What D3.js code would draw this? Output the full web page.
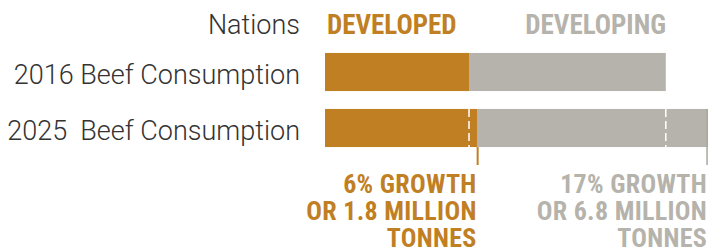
<!DOCTYPE html>
<html>
<head>
<meta charset="utf-8">
<script src="https://cdn.jsdelivr.net/npm/d3@7"></script>
<style>
  body { margin: 0; background: #fff; }
  svg { display: block; }
  .row-label { font-family: Roboto, sans-serif; font-weight: 300; fill: #333; }
  .head { font-family: Roboto, sans-serif; font-weight: 700; font-stretch: condensed; }
</style>
</head>
<body>
<script>
const w = 713;
const h = 249;
const orange = "#c17f24";
const grey = "#b5b3ab";

const years = ["2016 Beef Consumption", "2025  Beef Consumption"];
const groups = ["DEVELOPED", "DEVELOPING"];
const developed = [30, 31.8];
const developing = [41, 48];
const growthNotes = [
  ["6% GROWTH", "OR 1.8 MILLION", "TONNES"],
  ["17% GROWTH", "OR 6.8 MILLION", "TONNES"],
];

const svg = d3.select("body").append("svg").attr("width", w).attr("height", h);

const xScale = d3.scaleLinear().domain([0, 80]).range([325, 709]);
const yScale = d3
  .scaleBand()
  .domain(years)
  .range([44, 156])
  .paddingInner(0.32)
  .paddingOuter(0.16);

const rows = years.map((y, i) => ({ year: y, dev: developed[i], ing: developing[i] }));

// developed part
svg
  .selectAll(".bar-dev")
  .data(rows)
  .enter()
  .append("rect")
  .attr("class", "bar-dev")
  .attr("x", xScale(0))
  .attr("y", (d) => yScale(d.year))
  .attr("width", (d) => xScale(d.dev) - xScale(0))
  .attr("height", yScale.bandwidth())
  .attr("fill", orange);

// developing part
svg
  .selectAll(".bar-ing")
  .data(rows)
  .enter()
  .append("rect")
  .attr("class", "bar-ing")
  .attr("x", (d) => xScale(d.dev))
  .attr("y", (d) => yScale(d.year))
  .attr("width", (d) => xScale(d.dev + d.ing) - xScale(d.dev))
  .attr("height", yScale.bandwidth())
  .attr("fill", grey);

// 2016 extents marked inside the 2025 bar
const y25 = yScale(years[1]);
const marks = [developed[0], developed[0] + developing[0]];
svg
  .selectAll(".mark")
  .data(marks)
  .enter()
  .append("line")
  .attr("x1", (d) => xScale(d))
  .attr("x2", (d) => xScale(d))
  .attr("y1", y25)
  .attr("y2", y25 + yScale.bandwidth())
  .attr("stroke", "#fff")
  .attr("stroke-width", 1.5)
  .attr("stroke-dasharray", "8,4");

// growth ticks
const ends = [developed[1], developed[1] + developing[1]];
const tickBottom = 165;
svg
  .append("line")
  .attr("x1", xScale(ends[0]))
  .attr("x2", xScale(ends[0]))
  .attr("y1", y25 + yScale.bandwidth())
  .attr("y2", tickBottom)
  .attr("stroke", orange)
  .attr("stroke-width", 2);
svg
  .append("line")
  .attr("x1", xScale(ends[1]) - 1)
  .attr("x2", xScale(ends[1]) - 1)
  .attr("y1", y25)
  .attr("y2", tickBottom)
  .attr("stroke", "#a9a79f")
  .attr("stroke-width", 1.5);

// row labels
const yAxis = d3.axisLeft(yScale).tickSize(0).tickPadding(25);
const gy = svg.append("g").attr("transform", `translate(${xScale(0)},0)`).call(yAxis);
gy.select(".domain").remove();
gy.selectAll("text")
  .attr("class", "row-label")
  .attr("font-size", null)
  .style("font-size", "27px")
  .style("white-space", "pre")
  .attr("dy", "0.45em");

// header
svg
  .append("text")
  .attr("class", "row-label")
  .attr("x", 300)
  .attr("y", 34)
  .attr("text-anchor", "end")
  .style("font-size", "27px")
  .text("Nations");
svg
  .append("text")
  .attr("class", "head")
  .attr("x", 327)
  .attr("y", 34)
  .attr("fill", orange)
  .style("font-size", "27px")
  .text(groups[0]);
svg
  .append("text")
  .attr("class", "head")
  .attr("x", 666)
  .attr("y", 34)
  .attr("text-anchor", "end")
  .attr("fill", grey)
  .style("font-size", "27px")
  .text(groups[1]);

// growth notes
growthNotes.forEach((lines, i) => {
  const t = svg
    .append("text")
    .attr("class", "head")
    .attr("x", xScale(ends[i]) - 1)
    .attr("y", 193)
    .attr("text-anchor", "end")
    .attr("fill", i === 0 ? orange : grey)
    .style("font-size", "26px")
    .style("letter-spacing", "0.3px");
  lines.forEach((l, j) => {
    t.append("tspan")
      .attr("x", xScale(ends[i]) - 1)
      .attr("dy", j === 0 ? 0 : 27.2)
      .text(l);
  });
});
</script>
</body>
</html>
